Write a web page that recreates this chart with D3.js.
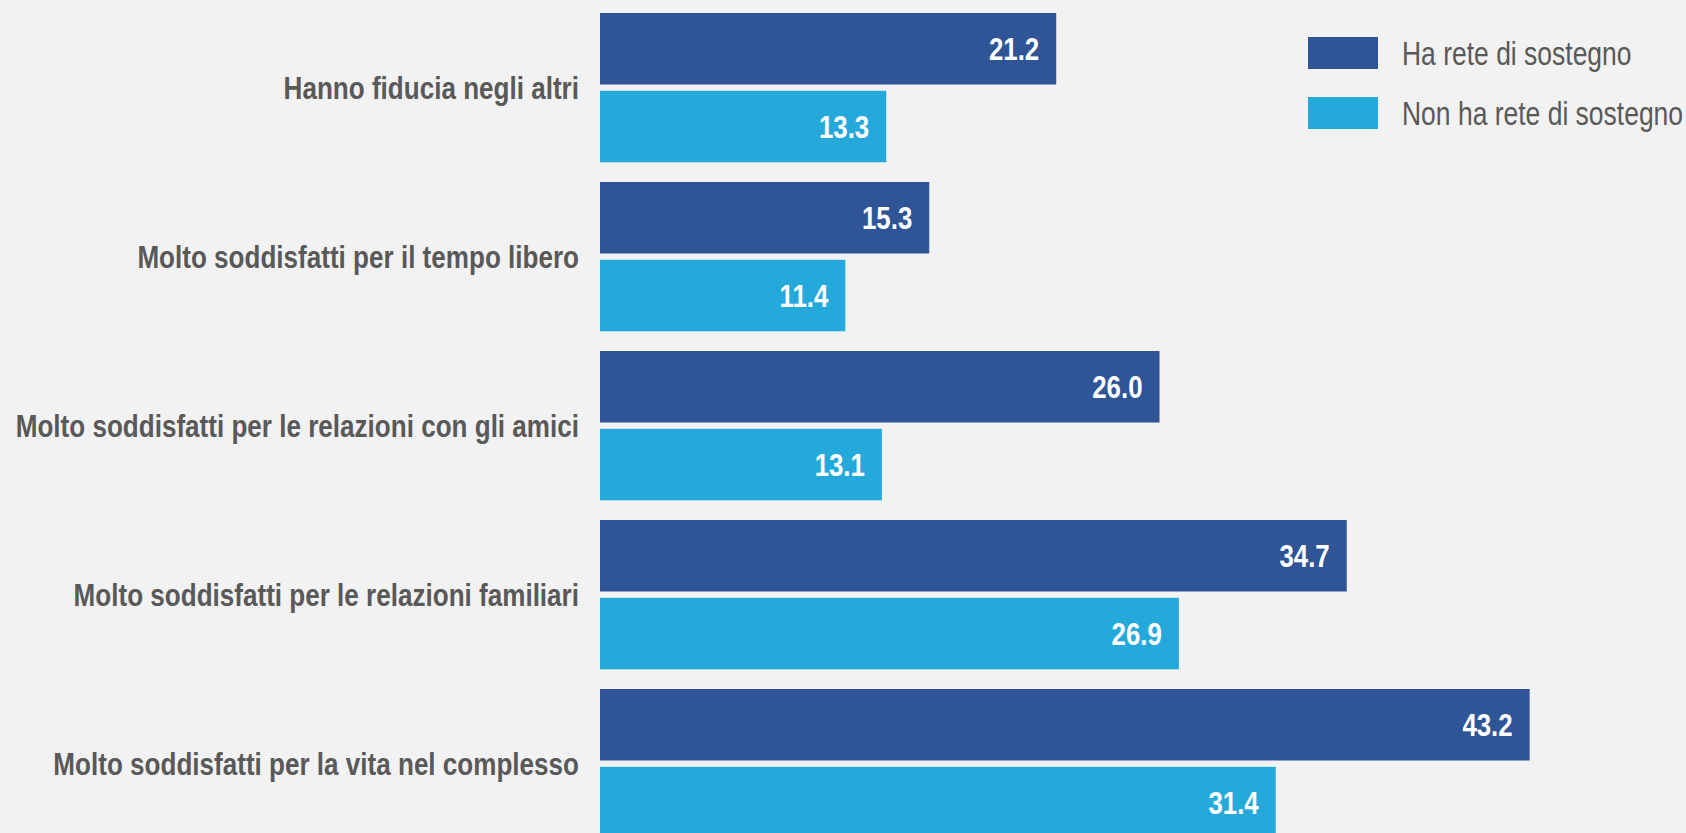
<!DOCTYPE html>
<html>
<head>
<meta charset="utf-8">
<script src="https://cdn.jsdelivr.net/npm/d3@7"></script>
<style>
  html, body { margin: 0; padding: 0; background: #f2f2f2; }
  svg { display: block; }
  text { font-family: "Liberation Sans", Arial, sans-serif; }
</style>
</head>
<body>
<svg id="chart" width="1686" height="833"></svg>
<script>
// Indicatori di benessere per presenza di rete di sostegno (valori %)
const categories = [
  "Hanno fiducia negli altri",
  "Molto soddisfatti per il tempo libero",
  "Molto soddisfatti per le relazioni con gli amici",
  "Molto soddisfatti per le relazioni familiari",
  "Molto soddisfatti per la vita nel complesso"
];
const seriesNames = ["Ha rete di sostegno", "Non ha rete di sostegno"];
const conRete = [21.2, 15.3, 26.0, 34.7, 43.2];
const senzaRete = [13.3, 11.4, 13.1, 26.9, 31.4];

const colors = ["#2f5597", "#25a9db"];
const textGray = "#595959";
// narrow face: regular sans compressed horizontally
const narrow = 0.82;

const rows = categories.map((c, i) => ({
  category: c,
  values: [
    { series: seriesNames[0], value: conRete[i] },
    { series: seriesNames[1], value: senzaRete[i] }
  ]
}));

const svg = d3.select("#chart");
svg.append("rect").attr("width", 1686).attr("height", 833).attr("fill", "#f2f2f2");

const x = d3.scaleLinear().domain([0, 50]).range([600, 1676]);
const y0 = d3.scaleBand().domain(categories).range([13, 838.3]).paddingInner(0.1166).paddingOuter(0);
const y1 = d3.scaleBand().domain(seriesNames).range([0, y0.bandwidth()]).paddingInner(0.081);
const color = d3.scaleOrdinal().domain(seriesNames).range(colors);

const place = (px, py) => `translate(${px},${py}) scale(${narrow},1)`;

const groups = svg.append("g").selectAll("g")
  .data(rows)
  .join("g")
  .attr("transform", d => `translate(0,${y0(d.category)})`);

groups.selectAll("rect")
  .data(d => d.values)
  .join("rect")
  .attr("x", x(0))
  .attr("y", d => y1(d.series))
  .attr("width", d => x(d.value) - x(0))
  .attr("height", y1.bandwidth())
  .attr("fill", d => color(d.series));

groups.selectAll("text.value")
  .data(d => d.values)
  .join("text")
  .attr("class", "value")
  .attr("transform", d => place(x(d.value) - 17, y1(d.series) + y1.bandwidth() / 2))
  .attr("dy", "0.36em")
  .attr("text-anchor", "end")
  .attr("fill", "#ffffff")
  .attr("font-weight", "bold")
  .attr("font-size", 31.5)
  .text(d => d.value.toFixed(1));

// Category labels, right aligned against the bars
groups.append("text")
  .attr("transform", place(579, y0.bandwidth() / 2))
  .attr("dy", "0.36em")
  .attr("text-anchor", "end")
  .attr("fill", textGray)
  .attr("font-weight", "bold")
  .attr("font-size", 31.8)
  .text(d => d.category);

// Legend
const legend = svg.append("g").selectAll("g")
  .data(seriesNames)
  .join("g")
  .attr("transform", (d, i) => `translate(1308,${37 + i * 60})`);

legend.append("rect")
  .attr("width", 70)
  .attr("height", 32)
  .attr("fill", d => color(d));

legend.append("text")
  .attr("transform", place(94, 16))
  .attr("dy", "0.36em")
  .attr("fill", textGray)
  .attr("font-size", 32.3)
  .text(d => d);
</script>
</body>
</html>
